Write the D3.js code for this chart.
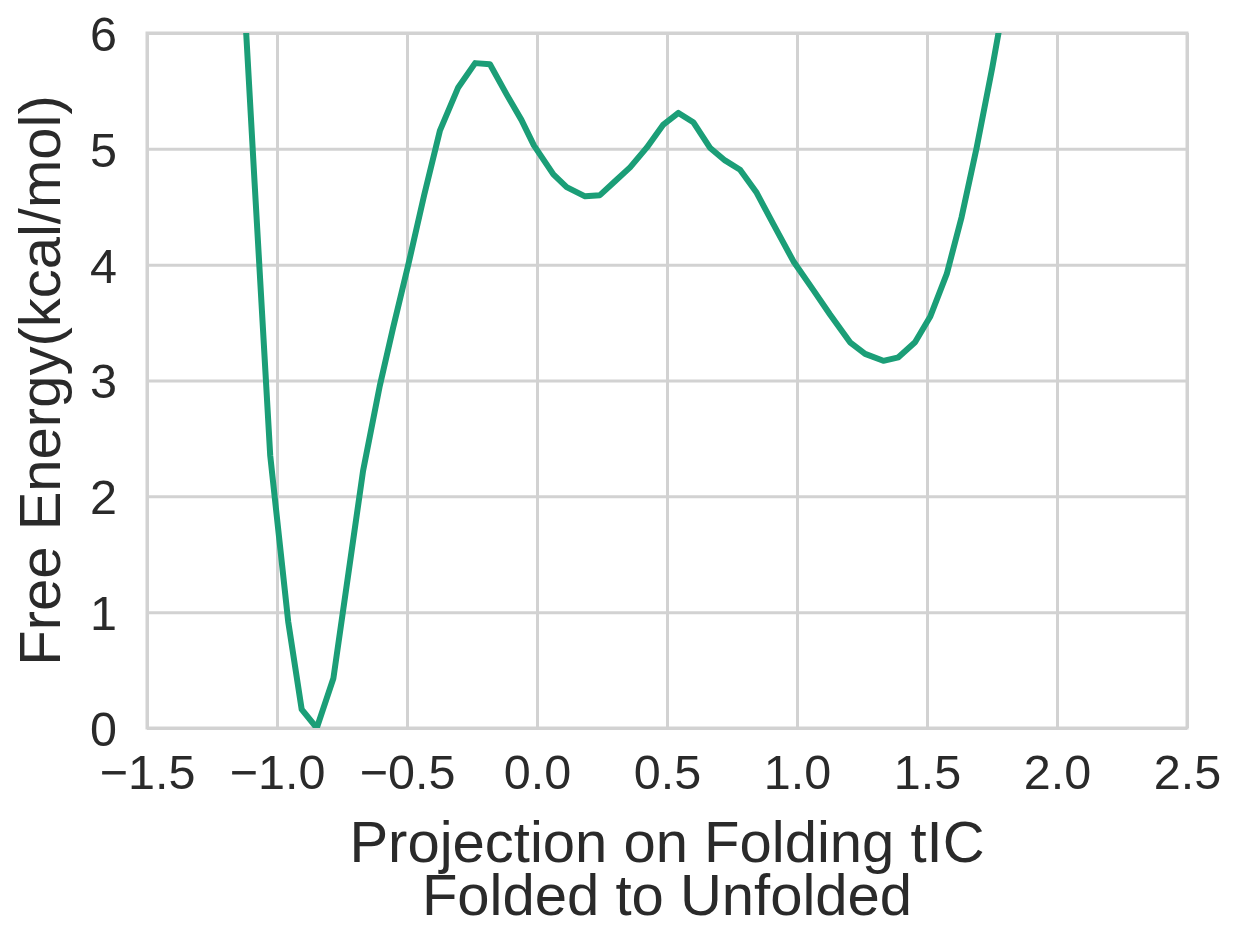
<!DOCTYPE html>
<html>
<head>
<meta charset="utf-8">
<script src="https://cdn.jsdelivr.net/npm/d3@7"></script>
<style>
  body { margin: 0; background: #fff; }
  text { font-family: "Liberation Sans", Arial, sans-serif; fill: #2a2a2a; }
</style>
</head>
<body>
<div id="chart"></div>
<script>
// values
let projection = [-1.146, -1.086, -1.026, -0.957, -0.905, -0.847, -0.783, -0.725, -0.669, -0.605,
	-0.553, -0.495, -0.434, -0.373, -0.303, -0.238, -0.181, -0.117, -0.060, -0.012,
	0.063, 0.114, 0.185, 0.242, 0.300, 0.358, 0.422, 0.486, 0.544, 0.601,
	0.665, 0.723, 0.781, 0.845, 0.909, 0.986, 1.063, 1.127, 1.204, 1.262,
	1.332, 1.390, 1.454, 1.512, 1.576, 1.633, 1.691, 1.751, 1.811];
let freeEnergy = [7.10, 4.70, 2.35, 0.92, 0.16, 0.00, 0.43, 1.34, 2.22, 2.95,
	3.46, 4.00, 4.60, 5.16, 5.53, 5.74, 5.73, 5.47, 5.25, 5.03,
	4.78, 4.67, 4.59, 4.60, 4.72, 4.84, 5.01, 5.21, 5.31, 5.23,
	5.01, 4.90, 4.82, 4.62, 4.35, 4.03, 3.78, 3.57, 3.33, 3.23,
	3.17, 3.20, 3.33, 3.55, 3.92, 4.41, 5.01, 5.70, 6.45];

let xTicks = [-1.5, -1.0, -0.5, 0.0, 0.5, 1.0, 1.5, 2.0, 2.5];
let yTicks = [0, 1, 2, 3, 4, 5, 6];
let xTitle = ["Projection on Folding tIC", "Folded to Unfolded"];

let svgWidth = 1233;
let svgHeight = 928;

let margin = {
	top: 33,
	right: 46,
	bottom: 200,
	left: 147
};

let width = svgWidth - margin.left - margin.right;
let height = svgHeight - margin.top - margin.bottom;

let svg = d3.select("#chart")
	.append("svg")
	.attr("width", svgWidth)
	.attr("height", svgHeight);

let chartGroup = svg.append("g")
	.attr("transform", `translate(${margin.left}, ${margin.top})`);

let xScale = d3.scaleLinear()
	.domain([-1.5, 2.5])
	.range([0, width]);

let yScale = d3.scaleLinear()
	.domain([0, 6])
	.range([height, 0]);

let fmtX = d => d3.format(".1f")(d).replace("-", "\u2212");

// grid
let xAxis = d3.axisBottom(xScale)
	.tickValues(xTicks)
	.tickSize(-height)
	.tickPadding(27)
	.tickFormat(fmtX);

let yAxis = d3.axisLeft(yScale)
	.tickValues(yTicks)
	.tickSize(-width)
	.tickPadding(30)
	.tickFormat(d3.format("d"));

let gx = chartGroup.append("g")
	.attr("transform", `translate(0, ${height})`)
	.call(xAxis);

let gy = chartGroup.append("g")
	.call(yAxis);

[gx, gy].forEach(g => {
	g.select(".domain").remove();
	g.selectAll(".tick line")
		.attr("stroke", "#d2d2d2")
		.attr("stroke-width", 3);
	g.selectAll(".tick text")
		.style("font-size", "48.5px")
		.attr("fill", "#2a2a2a");
});
gx.selectAll(".tick text").attr("dy", "0.71em");
gy.selectAll(".tick text").attr("dy", "0.36em");

// frame
chartGroup.append("rect")
	.attr("x", 0)
	.attr("y", 0)
	.attr("width", width)
	.attr("height", height)
	.attr("fill", "none")
	.attr("stroke", "#d2d2d2")
	.attr("stroke-width", 3);

chartGroup.append("clipPath")
	.attr("id", "clip")
	.append("rect")
	.attr("width", width)
	.attr("height", height);

let points = projection.map((p, i) => [p, freeEnergy[i]]);

let line = d3.line()
	.x(d => xScale(d[0]))
	.y(d => yScale(d[1]));

chartGroup.append("path")
	.datum(points)
	.attr("clip-path", "url(#clip)")
	.attr("fill", "none")
	.attr("stroke", "#1b9e77")
	.attr("stroke-width", 6)
	.attr("stroke-linejoin", "round")
	.attr("d", line);

// axis titles
let title = chartGroup.append("text")
	.attr("text-anchor", "middle")
	.style("font-size", "58px");

title.selectAll("tspan")
	.data(xTitle)
	.enter()
	.append("tspan")
	.attr("x", width / 2)
	.attr("y", (d, i) => height + 134 + i * 53)
	.text(d => d);

chartGroup.append("text")
	.attr("transform", "rotate(-90)")
	.attr("x", 0 - height / 2)
	.attr("y", 0 - margin.left + 60)
	.attr("text-anchor", "middle")
	.style("font-size", "58px")
	.text("Free Energy(kcal/mol)");
</script>
</body>
</html>
